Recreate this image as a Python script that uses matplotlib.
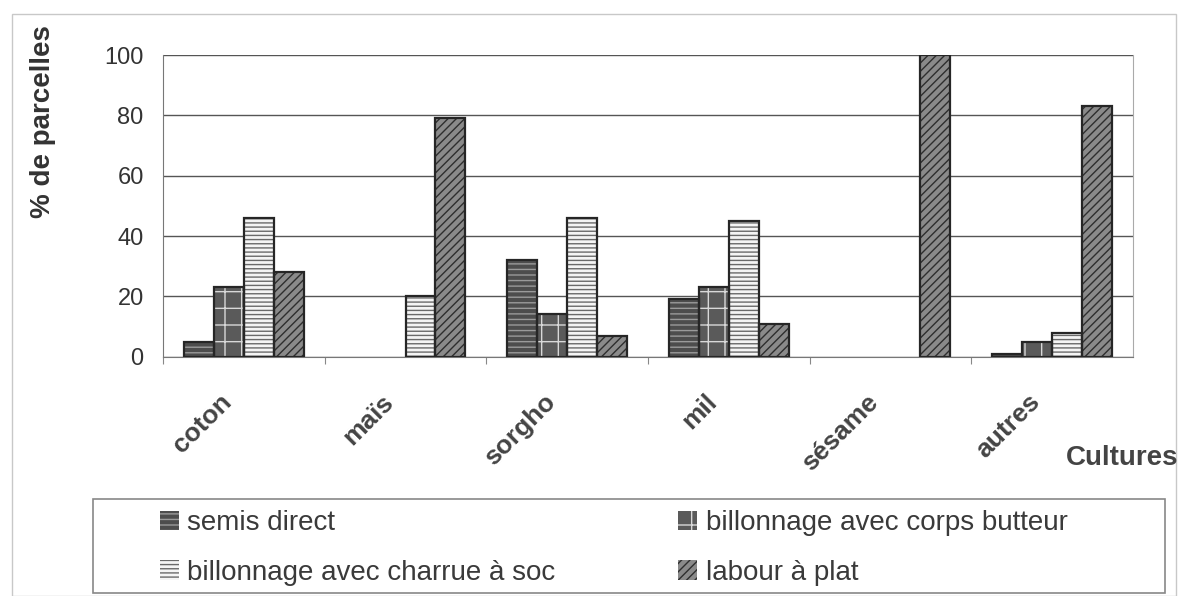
import numpy as np
import matplotlib.pyplot as plt
from matplotlib.patches import Patch, Rectangle

plt.rcParams['font.family'] = ['Liberation Sans', 'DejaVu Sans']
plt.rcParams['hatch.linewidth'] = 1.0

# Data
cultures = ['coton', 'maïs', 'sorgho', 'mil', 'sésame', 'autres']
series = ['semis direct', 'billonnage avec corps butteur',
          'billonnage avec charrue à soc', 'labour à plat']
semis_direct = [5, 0, 32, 19, 0, 1]
corps_butteur = [23, 0, 14, 23, 0, 5]
charrue_soc = [46, 20, 46, 45, 0, 8]
labour_plat = [28, 79, 7, 11, 100, 83]
values = [semis_direct, corps_butteur, charrue_soc, labour_plat]

# face colour, hatch, hatch colour
styles = [('#4d4d4d', '---', '#9a9a9a'),
          ('#5a5a5a', '-|', '#d8d8d8'),
          ('#f4f4f4', '----', '#6a6a6a'),
          ('#8a8a8a', '////', '#2e2e2e')]

fig = plt.figure(figsize=(11.82, 5.96), dpi=100)
fig.patches.append(Rectangle((0.010, 0.0), 0.985, 0.976, transform=fig.transFigure,
                             fill=False, ec='#c8c8c8', lw=1.0))
ax = fig.add_axes([0.138, 0.4015, 0.8205, 0.5062])

x = np.arange(len(cultures))
width = 0.185
for i, (vals, (fc, hatch, hc)) in enumerate(zip(values, styles)):
    pos = x + (i - 1.5) * width
    keep = [v > 0 for v in vals]
    pv = [p for p, k in zip(pos, keep) if k]
    vv = [v for v, k in zip(vals, keep) if k]
    ax.bar(pv, vv, width, color=fc, edgecolor=hc, hatch=hatch, lw=0, zorder=3)
    ax.bar(pv, vv, width, fill=False, edgecolor='#262626', lw=1.6, zorder=4)

ax.set_xlim(-0.5, len(cultures) - 0.5)
ax.set_ylim(0, 100)
ax.set_yticks(range(0, 101, 20))
ax.yaxis.grid(True, color='#555555', lw=1.0, zorder=0)
ax.tick_params(axis='y', length=0, pad=14, labelsize=17, labelcolor='#333333')

ax.set_xticks(x - 0.5, minor=False)
ax.set_xticklabels([])
ax.tick_params(axis='x', direction='out', length=5, color='#888888')
for xi, name in zip(x, cultures):
    ax.text(xi - 0.15, -11, name, rotation=45, rotation_mode='anchor',
            ha='right', va='top', fontsize=19, fontweight='bold', color='#444444',
            transform=ax.transData)

for side in ['left', 'bottom']:
    ax.spines[side].set_color('#777777')
ax.spines['right'].set_color('#aaaaaa')
ax.spines['top'].set_visible(False)

fig.text(0.036, 0.958, '% de parcelles', rotation=90, ha='center', va='top',
         fontsize=20, fontweight='bold', color='#333333')
fig.text(0.997, 0.232, 'Cultures', ha='right', va='center', fontsize=20,
         fontweight='bold', color='#444444')

# legend box drawn separately so the second column can sit where it does in the original
fig.patches.append(Rectangle((0.079, 0.005), 0.907, 0.158, transform=fig.transFigure,
                             fill=False, ec='#888888', lw=1.2))
# legend is filled column by column, so reorder to read row by row
order = [0, 2, 1, 3]
handles = [Patch(facecolor=styles[k][0], edgecolor=styles[k][2], hatch=styles[k][1], lw=0)
           for k in order]
labels = [series[k] for k in order]
leg = fig.legend(handles, labels, loc='upper left', bbox_to_anchor=(0.128, 0.158),
                 ncol=2, fontsize=20, frameon=False,
                 handlelength=0.7, handleheight=0.7, handletextpad=0.3,
                 borderaxespad=0, borderpad=0.3, labelspacing=0.85, columnspacing=4.4)
for t in leg.get_texts():
    t.set_color('#3a3a3a')

fig.savefig('out.png', dpi=100)
